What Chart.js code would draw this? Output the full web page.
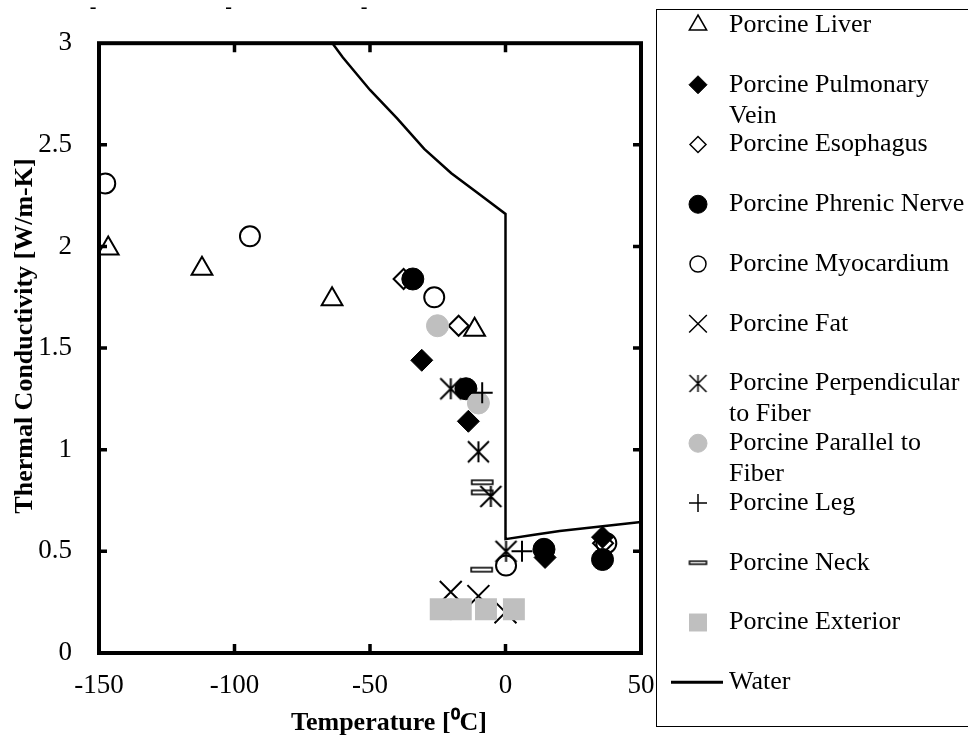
<!DOCTYPE html>
<html>
<head>
<meta charset="utf-8">
<script src="https://cdn.jsdelivr.net/npm/chart.js@4.4.0/dist/chart.umd.min.js"></script>
<style>
    html, body { margin: 0; padding: 0; background: #ffffff; }
    #wrap { width: 968px; height: 738px; position: relative; }
</style>
</head>
<body>
<div id="wrap"><canvas id="chartThermal"></canvas></div>
<script>
// оси
let xTicks = [-150, -100, -50, 0, 50];
let xTickLabels = ["-150", "-100", "-50", "0", "50"];
let yTicks = [0, 0.5, 1, 1.5, 2, 2.5, 3];
let yTickLabels = ["0", "0.5", "1", "1.5", "2", "2.5", "3"];

let seriesNames = ["Porcine Liver", "Porcine Pulmonary Vein", "Porcine Esophagus", "Porcine Phrenic Nerve",
    "Porcine Myocardium", "Porcine Fat", "Porcine Perpendicular to Fiber", "Porcine Parallel to Fiber",
    "Porcine Leg", "Porcine Neck", "Porcine Exterior", "Water"];

// данные
let liverX = [-146.6, -112, -64, -11.4];
let liverY = [1.99, 1.89, 1.74, 1.59];
let pulmonaryX = [-30.9, -13.7, 14.6, 35.8];
let pulmonaryY = [1.44, 1.14, 0.47, 0.57];
let esophagusX = [-37.6, -17.3, 36];
let esophagusY = [1.84, 1.61, 0.54];
let phrenicX = [-34.2, -14.6, 14.2, 35.8];
let phrenicY = [1.84, 1.30, 0.51, 0.46];
let myocardiumX = [-147.7, -94.3, -26.3, 0.2, 37.2];
let myocardiumY = [2.31, 2.05, 1.75, 0.43, 0.54];
let fatX = [-20.2, -10, 0];
let fatY = [0.30, 0.28, 0.20];
let perpX = [-20.2, -10, -5.4, 0.2];
let perpY = [1.30, 0.99, 0.77, 0.50];
let parallelX = [-25.1, -10];
let parallelY = [1.61, 1.23];
let legX = [-8.6, 6.1];
let legY = [1.28, 0.50];
let neckX = [-8.6, -8.6, -8.8];
let neckY = [0.84, 0.79, 0.41];
let exteriorX = [-23.9, -16.5, -7.2, 3.1];
let exteriorY = [0.215, 0.215, 0.215, 0.215];
let waterX = [-70, -60, -50, -40, -30, -20, -10, 0, 0, 10, 20, 30, 40, 50];
let waterY = [3.11, 2.93, 2.77, 2.63, 2.48, 2.36, 2.26, 2.16, 0.56, 0.58, 0.60, 0.615, 0.63, 0.645];

const FONT = "'Liberation Serif', 'Times New Roman', serif";
const GREY = "#bfbfbf";

function pts(xs, ys) {
    return xs.map((x, i) => ({x: x, y: ys[i]}));
}

// звездочка: вертикаль + крест
function makeAsterisk(size, lw) {
    const c = document.createElement('canvas');
    c.width = size + 4;
    c.height = size + 4;
    const g = c.getContext('2d');
    const m = c.width / 2, h = size / 2;
    g.strokeStyle = "#000";
    g.lineWidth = lw;
    g.beginPath();
    g.moveTo(m, m - h); g.lineTo(m, m + h);
    g.moveTo(m - h, m - h); g.lineTo(m + h, m + h);
    g.moveTo(m + h, m - h); g.lineTo(m - h, m + h);
    g.stroke();
    return c;
}

function makeNeck(w, h, lw) {
    const c = document.createElement('canvas');
    c.width = w + 4;
    c.height = h + 4;
    const g = c.getContext('2d');
    g.strokeStyle = "#000";
    g.lineWidth = lw;
    g.strokeRect(2, 2, w, h);
    return c;
}

let styles = [
    {style: 'triangle', r: 12, lr: 10, bg: 'transparent', bc: '#000', bw: 2, lbw: 1.5},
    {style: 'rectRot', r: 11, lr: 9, bg: '#000', bc: '#000', bw: 1, lbw: 1},
    {style: 'rectRot', r: 10, lr: 8, bg: 'transparent', bc: '#000', bw: 2, lbw: 1.5},
    {style: 'circle', r: 11, lr: 9, bg: '#000', bc: '#000', bw: 1, lbw: 1},
    {style: 'circle', r: 10, lr: 8, bg: 'transparent', bc: '#000', bw: 2, lbw: 1.5},
    {style: 'crossRot', r: 15.5, lr: 12.5, bg: 'transparent', bc: '#000', bw: 2, lbw: 1.5},
    {style: makeAsterisk(21, 2), lstyle: makeAsterisk(17, 1.5), r: 11, lr: 9, bg: 'transparent', bc: '#000', bw: 1, lbw: 1},
    {style: 'circle', r: 11, lr: 9, bg: GREY, bc: GREY, bw: 1, lbw: 1},
    {style: 'cross', r: 10.5, lr: 9, bg: 'transparent', bc: '#000', bw: 2, lbw: 1.5},
    {style: makeNeck(21, 4, 1.6), lstyle: makeNeck(17, 3, 1.5), r: 11, lr: 9, bg: 'transparent', bc: '#000', bw: 1, lbw: 1},
    {style: 'rect', r: 15.5, lr: 12.7, bg: GREY, bc: GREY, bw: 0, lbw: 0}
];

let seriesX = [liverX, pulmonaryX, esophagusX, phrenicX, myocardiumX, fatX, perpX, parallelX, legX, neckX, exteriorX];
let seriesY = [liverY, pulmonaryY, esophagusY, phrenicY, myocardiumY, fatY, perpY, parallelY, legY, neckY, exteriorY];

function buildDatasets() {
    let ds = [];
    for (let i = 0; i < seriesX.length; i++) {
        let s = styles[i];
        ds.push({
            label: seriesNames[i],
            data: pts(seriesX[i], seriesY[i]),
            pointStyle: s.style,
            pointRadius: s.r,
            pointBackgroundColor: s.bg,
            pointBorderColor: s.bc,
            pointBorderWidth: s.bw,
            showLine: false,
            order: seriesX.length - i + 1
        });
    }
    ds.push({
        label: seriesNames[11],
        data: pts(waterX, waterY),
        showLine: true,
        borderColor: '#000',
        borderWidth: 2.5,
        pointRadius: 0,
        tension: 0,
        order: 0
    });
    return ds;
}

function wrapText(ctx, text, maxW) {
    let words = text.split(' ');
    let lines = [];
    let cur = '';
    words.forEach(w => {
        let t = cur ? cur + ' ' + w : w;
        if (ctx.measureText(t).width > maxW && cur) {
            lines.push(cur);
            cur = w;
        } else {
            cur = t;
        }
    });
    lines.push(cur);
    return lines;
}

const framePlugin = {
    id: 'frame',
    beforeDatasetsDraw(chart) {
        const ctx = chart.ctx;
        const a = chart.chartArea;
        const xs = chart.scales.x, ys = chart.scales.y;
        ctx.save();
        ctx.strokeStyle = '#000';
        ctx.lineWidth = 4;
        ctx.strokeRect(a.left, a.top, a.right - a.left, a.bottom - a.top);
        ctx.lineWidth = 3.5;
        ctx.beginPath();
        xTicks.slice(1, -1).forEach(v => {
            const px = xs.getPixelForValue(v);
            ctx.moveTo(px, a.bottom); ctx.lineTo(px, a.bottom - 9);
            ctx.moveTo(px, a.top); ctx.lineTo(px, a.top + 9);
        });
        yTicks.slice(1, -1).forEach(v => {
            const py = ys.getPixelForValue(v);
            ctx.moveTo(a.left, py); ctx.lineTo(a.left + 8, py);
            ctx.moveTo(a.right, py); ctx.lineTo(a.right - 8, py);
        });
        ctx.stroke();
        ctx.restore();
    },
    afterDraw(chart) {
        const ctx = chart.ctx;
        const xs = chart.scales.x;
        ctx.save();
        ctx.fillStyle = '#000';

        // черточки сверху
        ctx.font = "20px " + FONT;
        ctx.textAlign = 'center';
        ctx.textBaseline = 'middle';
        xTicks.slice(0, 3).forEach(v => {
            ctx.fillText('-', xs.getPixelForValue(v) - 6, 8);
        });

        // подписи осей
        ctx.font = "bold 26px " + FONT;
        ctx.textBaseline = 'alphabetic';
        ctx.fillText("Temperature [\u2070C]", 389, 730);
        ctx.save();
        ctx.translate(32, 336);
        ctx.rotate(-Math.PI / 2);
        ctx.fillText("Thermal Conductivity [W/m-K]", 0, 0);
        ctx.restore();

        // легенда
        ctx.fillStyle = '#fff';
        ctx.fillRect(656.5, 9.5, 400, 717);
        ctx.strokeStyle = '#000';
        ctx.lineWidth = 1;
        ctx.strokeRect(656.5, 9.5, 400, 717);

        ctx.font = "26px " + FONT;
        ctx.textAlign = 'left';
        ctx.textBaseline = 'middle';
        for (let i = 0; i < seriesNames.length; i++) {
            const yc = 25 + 59.75 * i;
            const mx = 698;
            if (i < styles.length) {
                const s = styles[i];
                ctx.save();
                ctx.fillStyle = s.bg;
                ctx.strokeStyle = s.bc;
                ctx.lineWidth = s.lbw;
                Chart.helpers.drawPoint(ctx, {
                    pointStyle: s.lstyle || s.style,
                    radius: s.lr,
                    borderWidth: s.lbw,
                    rotation: 0
                }, mx, yc);
                ctx.restore();
            } else {
                ctx.save();
                ctx.strokeStyle = '#000';
                ctx.lineWidth = 3;
                ctx.beginPath();
                ctx.moveTo(671, yc);
                ctx.lineTo(723, yc);
                ctx.stroke();
                ctx.restore();
            }
            ctx.fillStyle = '#000';
            const lines = wrapText(ctx, seriesNames[i], 245);
            lines.forEach((l, k) => ctx.fillText(l, 729, yc + 31 * k));
        }
        ctx.restore();
    }
};

function chartThermal() {
    const ctx = document.getElementById('chartThermal').getContext('2d');
    const myChart = new Chart(ctx, {
        type: 'scatter',
        data: {datasets: buildDatasets()},
        options: {
            responsive: true,
            maintainAspectRatio: false,
            animation: false,
            layout: {padding: {left: 0, top: 40, right: 327, bottom: 0}},
            scales: {
                x: {
                    type: 'linear',
                    min: -150,
                    max: 50,
                    afterBuildTicks: s => { s.ticks = xTicks.map(v => ({value: v})); },
                    afterFit: s => { s.height = 85; },
                    grid: {display: false, drawTicks: false},
                    border: {display: false},
                    ticks: {
                        font: {family: FONT, size: 27}, color: '#000', padding: 17, maxRotation: 0, autoSkip: false,
                        callback: function(value) {
                            return xTickLabels[xTicks.indexOf(value)];
                        }
                    }
                },
                y: {
                    type: 'linear',
                    min: 0,
                    max: 3,
                    afterBuildTicks: s => { s.ticks = yTicks.map(v => ({value: v})); },
                    afterFit: s => { s.width = 99; },
                    grid: {display: false, drawTicks: false},
                    border: {display: false},
                    ticks: {
                        font: {family: FONT, size: 27}, color: '#000', padding: 27, autoSkip: false,
                        callback: function(value) {
                            return yTickLabels[yTicks.indexOf(value)];
                        }
                    }
                }
            },
            plugins: {
                legend: {display: false},
                tooltip: {enabled: false}
            }
        },
        plugins: [framePlugin]
    });
}

chartThermal();
</script>
</body>
</html>
